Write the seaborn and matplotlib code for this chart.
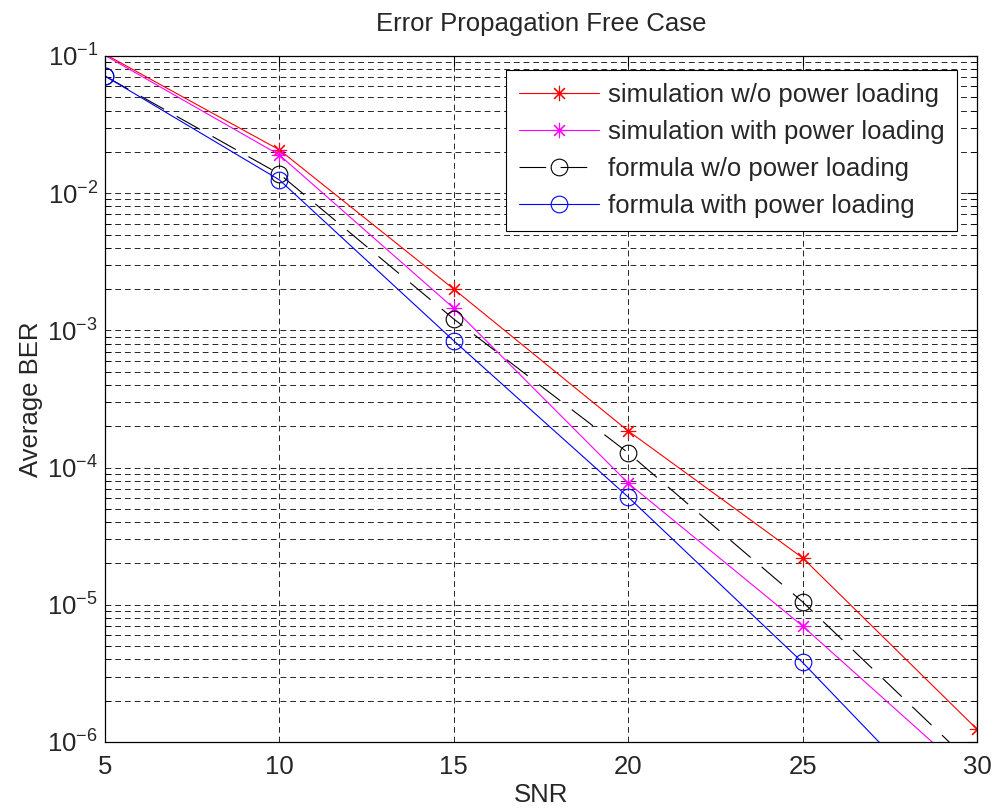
import numpy as np
import pandas as pd
import seaborn as sns
import matplotlib.pyplot as plt
from matplotlib.ticker import LogLocator, LogFormatterMathtext, NullFormatter

snr = [5, 10, 15, 20, 25, 30]
sim_no_pl = [0.103, 0.0207, 2.0e-3, 1.85e-4, 2.2e-5, 1.24e-6]
sim_pl = [0.101, 0.019, 1.45e-3, 7.7e-5, 7.0e-6, 5.1e-7]
form_no_pl = [0.0714, 0.0138, 1.21e-3, 1.28e-4, 1.05e-5, 6.4e-7]
form_pl = [0.0714, 0.0125, 8.4e-4, 6.1e-5, 3.8e-6, 1.8e-7]

labels = ['simulation w/o power loading', 'simulation with power loading',
          'formula w/o power loading', 'formula with power loading']

sns.set_style('white')
plt.rcParams['font.family'] = ['Liberation Sans', 'DejaVu Sans']
plt.rcParams['mathtext.default'] = 'regular'

df = pd.DataFrame({'SNR': snr * 4,
                   'BER': sim_no_pl + sim_pl + form_no_pl + form_pl,
                   'series': np.repeat(labels, len(snr))})

fig = plt.figure(figsize=(9.94, 8.10), dpi=100)
ax = fig.add_axes([105 / 994, 1 - 742 / 810, 872 / 994, 686 / 810])

styles = [
    dict(color='#ff0000', marker=(8, 2, 0), ms=11, ls='-', every=slice(1, None)),
    dict(color='#ff00ff', marker=(8, 2, 0), ms=11, ls='-', every=slice(1, None)),
    dict(color='black', marker='o', ms=12, ls=(0, (24, 13)), every=None),
    dict(color='#0000ff', marker='o', ms=12, ls='-', every=None),
]
for lab, st in zip(labels, styles):
    sub = df[df['series'] == lab]
    sns.lineplot(data=sub, x='SNR', y='BER', ax=ax, label=lab, color=st['color'],
                 marker=st['marker'], markersize=st['ms'], linestyle=st['ls'],
                 linewidth=0.8, markerfacecolor='none', markeredgecolor=st['color'],
                 markeredgewidth=0.8, markevery=st['every'])

ax.set_yscale('log')
ax.set_xlim(5, 30)
ax.set_ylim(1e-6, 1e-1)
ax.set_xticks([5, 10, 15, 20, 25, 30])
ax.yaxis.set_major_locator(LogLocator(base=10, numticks=10))
ax.yaxis.set_major_formatter(LogFormatterMathtext())
ax.yaxis.set_minor_locator(LogLocator(base=10, subs=np.arange(2, 10), numticks=20))
ax.yaxis.set_minor_formatter(NullFormatter())

ax.grid(True, which='major', color='black', linestyle=(0, (6, 4)), linewidth=0.7, alpha=0.85)
ax.grid(True, which='minor', axis='y', color='black', linestyle=(0, (6, 4)), linewidth=0.7, alpha=0.85)

ax.tick_params(which='both', direction='in', top=True, right=True, labelsize=18.5,
               color='black')
ax.tick_params(which='major', length=7, width=0.8)
ax.tick_params(which='minor', length=4, width=0.6, left=True, right=True)
ax.tick_params(axis='x', pad=9)
ax.tick_params(axis='y', pad=5)
for s in ax.spines.values():
    s.set_color('black')
    s.set_linewidth(0.9)

ax.set_title('Error Propagation Free Case', fontsize=18.5, pad=18)
ax.set_xlabel('SNR', fontsize=18.5, labelpad=3)
ax.set_ylabel('Average BER', fontsize=18.5, labelpad=3)

leg = ax.legend(loc='upper right', fontsize=18.5, frameon=True, fancybox=False,
                edgecolor='black', framealpha=1, handlelength=3.1, handletextpad=0.35,
                borderpad=0.5, labelspacing=0.5, borderaxespad=0,
                bbox_to_anchor=(0.9775, 0.979))
leg.get_frame().set_linewidth(0.8)
for line in leg.get_lines():
    line.set_linewidth(0.8)

fig.savefig('out.png', dpi=100)
